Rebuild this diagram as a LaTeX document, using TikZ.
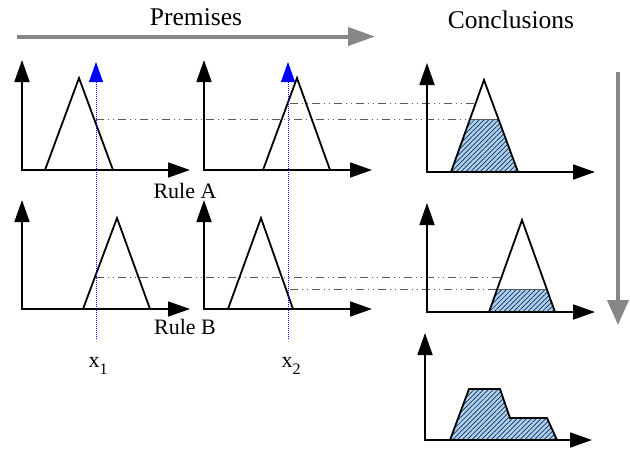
\documentclass[tikz,border=0pt]{standalone}
\usepackage{fontspec}
\setmainfont{Liberation Serif}
\usetikzlibrary{arrows.meta,patterns.meta}
\definecolor{hatchblue}{HTML}{A9D1F7}
\definecolor{flowgray}{HTML}{878787}
\definecolor{levelgray}{HTML}{5A5A5A}
\definecolor{hatchline}{HTML}{1A2A3A}
\begin{document}
\begin{tikzpicture}[x=1pt,y=-1pt,
  axes/.style={line width=1.8pt,{Triangle[length=22pt,width=15pt]}-{Triangle[length=22pt,width=15pt]}},
  mf/.style={line width=1.8pt,line join=miter},
  level/.style={levelgray,line width=0.8pt,dash pattern=on 8pt off 4pt on 1pt off 4pt on 1pt off 4pt},
  inp/.style={blue,line width=1pt,densely dotted,-{Triangle[length=20pt,width=14pt]}},
  flow/.style={flowgray,line width=4pt,-{Triangle[length=27pt,width=18pt]}},
  lbl/.style={inner sep=0pt,font=\fontsize{22}{26}\selectfont},
  head/.style={inner sep=0pt,font=\fontsize{25.5}{30}\selectfont},
  hatch/.style={pattern={Lines[angle=45,distance=3.4pt,line width=0.7pt]},pattern color=hatchline}
]
\useasboundingbox (0,0) rectangle (630,450);

% headings
\node[head] (prem) at (196,17) {Premises};
\node[head] (conc) at (511,20) {Conclusions};
\coordinate (pl) at (17,36.5);
\coordinate (pr) at (375,36.5);
\draw[flow] (pl) -- (pr);
\coordinate (vt) at (618,72);
\coordinate (vb) at (618,325);
\draw[flow,line width=4pt,-{Triangle[length=25pt,width=21pt]}] (vt) -- (vb);

% level lines (behind)
\draw[level] (96,119) -- (470,119);
\draw[level] (290,103) -- (475,103);
\draw[level] (96,277) -- (502,277);
\draw[level] (290,289) -- (497,289);

% Rule A premise 1
\draw[axes] (22,60) -- (22,170) -- (190,170);
\draw[mf] (45,170) -- (79,78) -- (113,170);
% Rule A premise 2
\draw[axes] (204,60) -- (204,170) -- (372,170);
\draw[mf] (263,170) -- (297,78) -- (330,170);
\node[lbl] (ruleA) at (185,191) {Rule A};

% Rule B premise 1
\draw[axes] (22,200) -- (22,309) -- (190,309);
\draw[mf] (83,309) -- (117,218) -- (150,309);
% Rule B premise 2
\draw[axes] (204,200) -- (204,309) -- (372,309);
\draw[mf] (228,309) -- (261,218) -- (293,309);
\node[lbl] (ruleB) at (185,327) {Rule B};

% Conclusion A
\fill[hatchblue] (451,172) -- (470.6,119) -- (498.4,119) -- (518,172) -- cycle;
\fill[hatch] (451,172) -- (470.6,119) -- (498.4,119) -- (518,172) -- cycle;
\draw[levelgray,line width=1pt] (470.6,119) -- (498.4,119);
\draw[axes] (427,63) -- (427,172) -- (595,172);
\draw[mf] (451,172) -- (484,80) -- (518,172);

% Conclusion B
\fill[hatchblue] (489,312) -- (497.3,289) -- (546.7,289) -- (555,312) -- cycle;
\fill[hatch] (489,312) -- (497.3,289) -- (546.7,289) -- (555,312) -- cycle;
\draw[levelgray,line width=1pt] (497.3,289) -- (546.7,289);
\draw[axes] (427,203) -- (427,312) -- (595,312);
\draw[mf] (489,312) -- (522,220) -- (555,312);

% Aggregated
\fill[hatchblue] (450,440) -- (469,389) -- (500,389) -- (510,418) -- (547,418) -- (557,440) -- cycle;
\fill[hatch] (450,440) -- (469,389) -- (500,389) -- (510,418) -- (547,418) -- (557,440) -- cycle;
\draw[mf] (450,440) -- (469,389) -- (500,389) -- (510,418) -- (547,418) -- (557,440);
\draw[axes] (425,333) -- (425,440) -- (592,440);

% inputs
\draw[inp] (96,339) -- (96,62);
\draw[inp] (288,339) -- (288,62);
\node[lbl,anchor=base] (xa) at (98,367) {x\raisebox{-7pt}{\fontsize{16}{16}\selectfont 1}};
\node[lbl,anchor=base] (xb) at (291,367) {x\raisebox{-7pt}{\fontsize{16}{16}\selectfont 2}};
\end{tikzpicture}
\end{document}
